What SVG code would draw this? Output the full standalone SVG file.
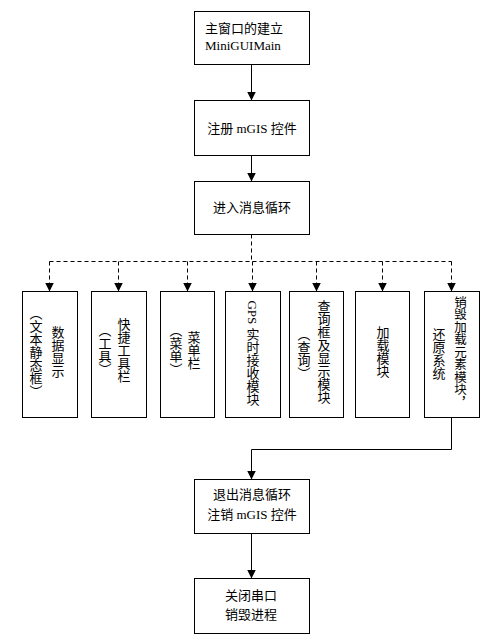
<svg xmlns="http://www.w3.org/2000/svg" width="495" height="644" viewBox="0 0 495 644">
<style>
.box{fill:#fff;stroke:#000;stroke-width:1}
.t{font-family:"Liberation Serif","Noto Sans CJK SC",serif;font-size:13px;fill:#000}
.c{text-anchor:middle}
.v{writing-mode:vertical-rl;text-anchor:middle}
.ln{fill:none;stroke:#000;stroke-width:1}
.d{stroke-dasharray:4,3}
</style>
<defs>
<marker id="ah" viewBox="0 0 10 10" refX="10" refY="5" markerUnits="userSpaceOnUse" markerWidth="9" markerHeight="9" orient="auto">
<path d="M0,0 L10,5 L0,10 z" fill="#000"/>
</marker>
</defs>
<rect width="495" height="644" fill="#fff"/>
<g id="connectors">
<path class="ln" d="M251.5,64.5 V100.5" marker-end="url(#ah)"/>
<path class="ln" d="M251.5,155.5 V181.5" marker-end="url(#ah)"/>
<path class="ln d" d="M251.5,234.5 V261.5"/>
<path class="ln d" d="M49.5,261.5 H451.5"/>
<path class="ln d" d="M49.5,261.5 V291.5" marker-end="url(#ah)"/>
<path class="ln d" d="M118.5,261.5 V291.5" marker-end="url(#ah)"/>
<path class="ln d" d="M187.5,261.5 V291.5" marker-end="url(#ah)"/>
<path class="ln d" d="M252.5,261.5 V291.5" marker-end="url(#ah)"/>
<path class="ln d" d="M316.5,261.5 V291.5" marker-end="url(#ah)"/>
<path class="ln d" d="M382.5,261.5 V291.5" marker-end="url(#ah)"/>
<path class="ln d" d="M451.5,261.5 V291.5" marker-end="url(#ah)"/>
<path class="ln" d="M451.5,417.5 V449.5 H251.5 V479.5" marker-end="url(#ah)"/>
<path class="ln" d="M251.5,533.5 V578.5" marker-end="url(#ah)"/>
</g>
<g id="n1">
<rect class="box" x="194.5" y="11.5" width="115" height="53"/>
<text class="t" x="205" y="33">主窗口的建立</text>
<text class="t" x="205" y="50">MiniGUIMain</text>
</g>
<g id="n2">
<rect class="box" x="194.5" y="100.5" width="115" height="55"/>
<text class="t c" x="252" y="133">注册 mGIS 控件</text>
</g>
<g id="n3">
<rect class="box" x="194.5" y="181.5" width="115" height="53"/>
<text class="t c" x="252" y="212">进入消息循环</text>
</g>
<g id="v1">
<rect class="box" x="22.5" y="291.5" width="55" height="126"/>
<text class="t v" x="57" y="352">数据显示</text>
<text class="t v" x="35" y="352">（文本静态框）</text>
</g>
<g id="v2">
<rect class="box" x="91.5" y="291.5" width="55" height="126"/>
<text class="t v" x="123" y="350">快捷工具栏</text>
<text class="t v" x="104" y="350">（工具）</text>
</g>
<g id="v3">
<rect class="box" x="160.5" y="291.5" width="54" height="126"/>
<text class="t v" x="193" y="350">菜单栏</text>
<text class="t v" x="175" y="350">（菜单）</text>
</g>
<g id="v4">
<rect class="box" x="225.5" y="291.5" width="55" height="126"/>
<text class="t v" x="252" y="353">GPS 实时接收模块</text>
</g>
<g id="v5">
<rect class="box" x="289.5" y="291.5" width="54" height="126"/>
<text class="t v" x="323" y="352">查询框及显示模块</text>
<text class="t v" x="303" y="354">（查询）</text>
</g>
<g id="v6">
<rect class="box" x="355.5" y="291.5" width="54" height="126"/>
<text class="t v" x="382" y="352">加载模块</text>
</g>
<g id="v7">
<rect class="box" x="424.5" y="291.5" width="55" height="126"/>
<text class="t v" x="459" y="352" style="font-size:12.5px">销毁加载元素模块，</text>
<text class="t v" x="438" y="354">还原系统</text>
</g>
<g id="n8">
<rect class="box" x="194.5" y="479.5" width="115" height="54"/>
<text class="t c" x="252" y="499">退出消息循环</text>
<text class="t c" x="252" y="519">注销 mGIS 控件</text>
</g>
<g id="n9">
<rect class="box" x="194.5" y="578.5" width="115" height="55"/>
<text class="t c" x="251" y="600">关闭串口</text>
<text class="t c" x="251" y="619">销毁进程</text>
</g>
</svg>
